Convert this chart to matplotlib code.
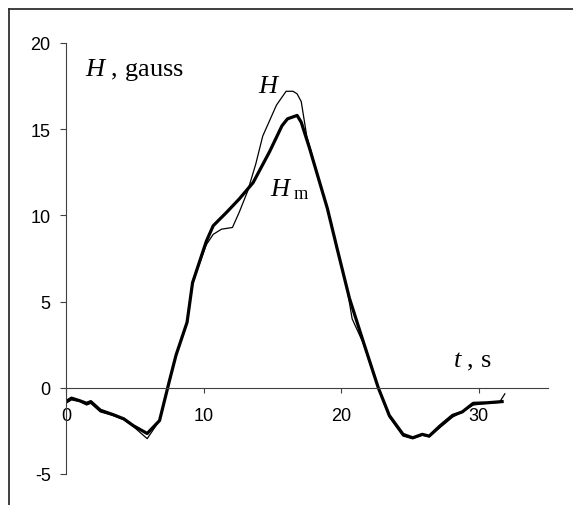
import matplotlib
matplotlib.use('Agg')
import matplotlib.pyplot as plt
from matplotlib.lines import Line2D

plt.rcParams['mathtext.fontset'] = 'custom'
plt.rcParams['mathtext.rm'] = 'Liberation Serif'
plt.rcParams['mathtext.it'] = 'Liberation Serif:italic'

# measured field H (thin line)
t_h = [0, 0.4, 1.0, 1.5, 1.8, 2.5, 3.4, 4.2, 4.9, 5.9, 6.8, 7.5, 8.0, 8.8, 9.2, 9.7,
       10.2, 10.7, 11.3, 12.1, 12.6, 13.2, 13.8, 14.3, 15.3, 16.0, 16.5, 16.8, 17.1,
       17.5, 19.0, 19.7, 20.4, 20.8, 21.6, 22.7, 23.5, 24.5, 25.2, 25.9, 26.4, 27.2,
       28.1, 28.8, 29.6, 30.6, 31.5, 31.9]
H = [-0.9, -0.7, -0.8, -1.0, -0.9, -1.4, -1.6, -1.85, -2.25, -2.95, -1.9, 0.35, 1.9,
     3.8, 6.0, 7.2, 8.3, 8.9, 9.2, 9.3, 10.2, 11.4, 13.0, 14.6, 16.4, 17.2, 17.2, 17.05,
     16.6, 14.6, 10.4, 8.1, 5.9, 4.0, 2.6, 0.0, -1.7, -2.8, -2.95, -2.75, -2.85, -2.3,
     -1.7, -1.4, -1.0, -0.9, -0.85, -0.35]

# model field Hm (thick line)
t_m = [0, 0.4, 1.0, 1.5, 1.8, 2.5, 3.4, 4.2, 4.9, 5.9, 6.8, 7.5, 8.0, 8.8, 9.2, 9.7,
       10.2, 10.7, 11.7, 12.6, 13.6, 14.8, 15.7, 16.1, 16.8, 17.1, 17.7, 19.0, 19.7,
       20.6, 21.6, 22.7, 23.5, 24.5, 25.2, 25.9, 26.4, 27.2, 28.1, 28.8, 29.6, 30.6, 31.7]
Hm = [-0.8, -0.6, -0.75, -0.9, -0.8, -1.3, -1.55, -1.8, -2.2, -2.65, -1.9, 0.35, 1.9,
      3.8, 6.1, 7.3, 8.5, 9.4, 10.2, 10.96, 11.9, 13.7, 15.2, 15.6, 15.8, 15.4, 13.9,
      10.4, 8.1, 5.2, 2.7, 0.0, -1.6, -2.7, -2.9, -2.7, -2.8, -2.2, -1.6, -1.4, -0.9,
      -0.87, -0.8]

x_ticks = [0, 10, 20, 30]
y_ticks = [-5, 0, 5, 10, 15, 20]

fig = plt.figure(figsize=(5.73, 5.06), dpi=100)
ax = fig.add_axes([66/573, 1-475/506, (547.5-66)/573, (475-44)/506])

ax.plot(t_h, H, color='black', lw=0.9, solid_joinstyle='round')
ax.plot(t_m, Hm, color='black', lw=2.3, solid_joinstyle='round')

ax.set_xlim(0, 35)
ax.set_ylim(-5, 20)

for s in ['top', 'right']:
    ax.spines[s].set_visible(False)
ax.spines['bottom'].set_position(('data', 0))
for s in ['left', 'bottom']:
    ax.spines[s].set_color('#404040')
    ax.spines[s].set_linewidth(0.8)

ax.set_xticks(x_ticks)
ax.set_yticks(y_ticks)
ax.set_xticklabels([str(v) for v in x_ticks], family='Liberation Sans', fontsize=13)
ax.set_yticklabels([str(v) for v in y_ticks], family='Liberation Sans', fontsize=13)
ax.tick_params(axis='x', direction='out', length=3.6, width=0.8, color='#404040', pad=10)
ax.tick_params(axis='y', direction='out', length=4.5, width=0.8, color='#404040', pad=6.5)
ax.patch.set_visible(False)

serif = 'Liberation Serif'
ax.text(1.38, 18.15, r'$H$ , gauss', family=serif, fontsize=19, va='baseline')
ax.text(13.94, 17.17, r'$H$', family=serif, fontsize=19, va='baseline')
ax.text(14.8, 11.14, r'$H_{\;\rm m}$', family=serif, fontsize=19, va='baseline')
ax.text(28.1, 1.22, r'$t$ , s', family=serif, fontsize=19, va='baseline')

# outer frame (cropped at right and bottom)
fx = 9/573
fy = 1 - 10/506
fig.add_artist(Line2D([fx, 1], [fy, fy], transform=fig.transFigure, color='#303030', lw=1.3))
fig.add_artist(Line2D([fx, fx], [0, fy], transform=fig.transFigure, color='#303030', lw=1.3))

fig.savefig('out.png', dpi=100)
